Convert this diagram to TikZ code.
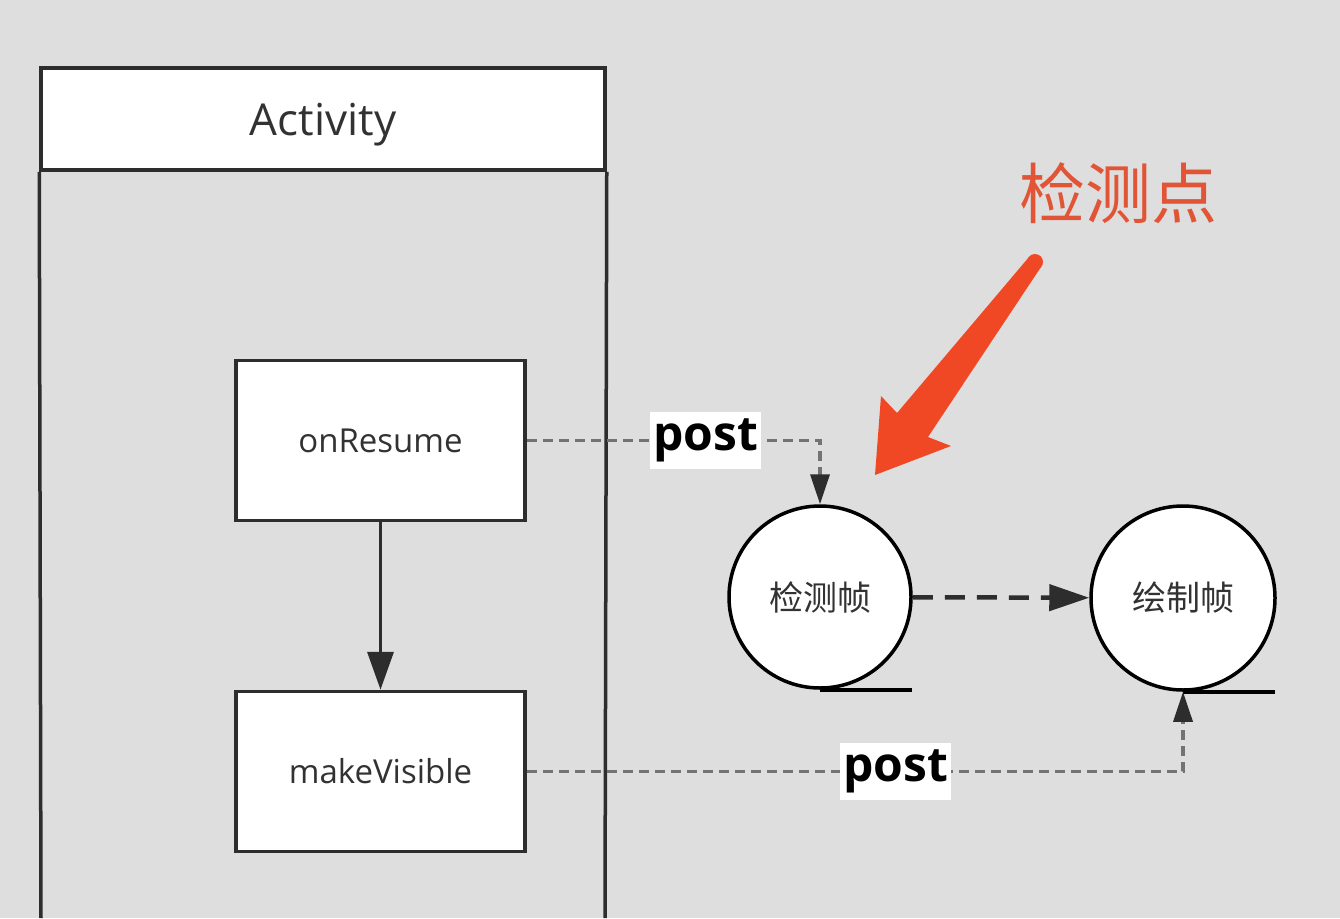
\documentclass[tikz,border=0pt]{standalone}
\usepackage{fontspec}
\setmainfont{Open Sans}
\newfontfamily\cjk{Noto Sans CJK SC}
\usepackage{xcolor}
\usetikzlibrary{arrows.meta, positioning, calc}

\definecolor{bggray}{RGB}{222,222,222}
\definecolor{linedark}{RGB}{45,45,45}
\definecolor{textdark}{RGB}{50,50,50}
\definecolor{postgray}{RGB}{115,115,115}
\definecolor{markred}{RGB}{226,84,54}
\definecolor{arrowred}{RGB}{240,72,36}

\begin{document}
\begin{tikzpicture}[x=1pt, y=-1pt,
    stepbox/.style={draw=linedark, line width=3.5pt, fill=white, minimum width=289pt, minimum height=160pt, inner sep=0pt, text=textdark, font=\fontsize{33}{40}\selectfont},
    framecircle/.style={circle, draw=black, line width=3.5pt, fill=white, minimum size=182pt, inner sep=0pt, text=textdark, font=\cjk\fontsize{34}{40}\selectfont},
    postline/.style={draw=postgray, line width=3.5pt, dash pattern=on 10pt off 6pt, -{Triangle[length=30pt, width=19pt]}, arrows={[fill=linedark, color=linedark]}},
    postlabel/.style={fill=white, inner xsep=3pt, inner ysep=7pt, font=\bfseries\fontsize{48}{56}\selectfont, text=black}]
    % =========================================================
    % CANVAS
    % =========================================================
    \fill[bggray] (0,0) rectangle (1340,918);
    \useasboundingbox (0,0) rectangle (1340,918);

    % =========================================================
    % ACTIVITY LANE
    % =========================================================
    \node[draw=linedark, line width=3.5pt, fill=white, minimum width=564pt, minimum height=102pt, inner sep=0pt, text depth=0pt, text=textdark, font=\fontsize{44}{52}\selectfont] (activity) at (323,119) {Activity};
    \draw[linedark, line width=3.5pt] (activity.south west) -- (41,918);
    \draw[linedark, line width=3.5pt] (activity.south east) -- (605,918);

    \node[stepbox] (onresume) at (380.5,440.5) {onResume};
    \node[stepbox] (makevisible) at (380.5,771.5) {makeVisible};
    \draw[linedark, line width=3.5pt, -{Triangle[length=38pt, width=26pt]}] (onresume) -- (makevisible);

    % =========================================================
    % FRAMES
    % =========================================================
    \node[framecircle] (checkframe) at (820,597) {检测帧};
    \node[framecircle, minimum size=184pt] (drawframe) at (1183,598) {绘制帧};
    \draw[black, line width=3.5pt] (checkframe.south) -- ++(92,0);
    \draw[black, line width=3.5pt] (drawframe.south) -- ++(92,0);
    \draw[linedark, line width=4.5pt, dash pattern=on 20pt off 12pt, -{Triangle[length=40pt, width=26pt]}] (checkframe) -- (drawframe);

    % post connectors
    \draw[postline] (onresume.east) -| node[postlabel, pos=0.305] (postone) {post} (checkframe.north);
    \draw[postline] (makevisible.east) -| node[postlabel, pos=0.281] (posttwo) {post} (drawframe.south);

    % =========================================================
    % CHECK POINT MARK
    % =========================================================
    \node[text=markred, font=\cjk\fontsize{66}{74}\selectfont] (checkpoint) at (1118,193) {检测点};
    \fill[arrowred] (1041,267) -- (928,437) -- (951,446) -- (875,475) -- (881,396) -- (897,413) -- (1029,257) -- cycle;
    \fill[arrowred] (1035,262) circle (8);
\end{tikzpicture}
\end{document}
